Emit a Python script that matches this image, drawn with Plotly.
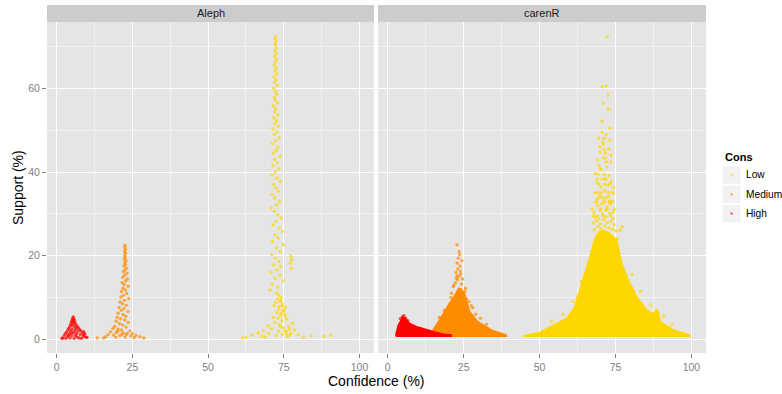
import plotly.graph_objects as go

# ---------------- data ----------------
COLORS = {"Low": "#FFD700", "Medium": "#FF8C00", "High": "#FF0000"}
LEVELS = ["Low", "Medium", "High"]
FACETS = ["Aleph", "carenR"]

x_ticks = [0, 25, 50, 75, 100]
y_ticks = [0, 20, 40, 60]

# Aleph panel: individual rules (confidence %, support %)
aleph_high_conf = [5.5, 5.3, 5.7, 5.0, 5.9, 5.4, 4.8, 6.1, 5.6, 4.6, 6.4, 5.2, 6.8, 4.3, 5.9, 7.2, 4.0, 6.5, 5.0, 7.6,
                   3.7, 6.0, 8.0, 4.5, 7.0, 3.3, 5.5, 8.5, 2.9, 6.5, 4.2, 7.8, 9.0, 2.5, 5.0, 8.8, 3.6, 6.8, 9.6, 2.0,
                   4.4, 7.4, 1.7, 3.0, 5.8, 8.2, 10.0, 9.3, 8.9, 6.2, 4.9, 3.8]
aleph_high_supp = [5.3, 5.0, 4.8, 4.5, 4.4, 4.2, 4.0, 3.9, 3.7, 3.5, 3.4, 3.3, 3.1, 3.0, 2.9, 2.7, 2.6, 2.5, 2.4, 2.3,
                   2.2, 2.1, 2.0, 1.9, 1.8, 1.7, 1.6, 1.5, 1.4, 1.3, 1.2, 1.1, 1.0, 0.9, 0.8, 0.7, 0.6, 0.5, 0.5, 0.3,
                   0.3, 0.3, 0.2, 0.2, 0.2, 0.2, 0.4, 1.3, 1.8, 0.9, 1.4, 1.0]

aleph_med_conf = [22.6, 22.5, 22.7, 22.4, 22.8, 22.5, 22.6, 22.3, 22.9, 22.5, 22.7, 22.2, 23.0, 22.6, 22.0, 23.2, 22.4,
                  21.8, 23.4, 22.8, 21.6, 22.3, 23.6, 21.9, 22.7, 21.4, 23.1, 22.1, 21.2, 23.8, 22.4, 20.9, 21.7, 23.0,
                  20.6, 22.2, 21.3, 23.5, 20.3, 21.9, 22.8, 20.0, 21.1, 22.5, 19.6, 23.6, 20.7, 21.8, 19.2, 22.9, 18.6,
                  20.3, 21.4, 24.2, 17.8, 19.7, 22.0, 23.3, 25.0, 17.0, 18.8, 20.9, 24.5, 26.2, 16.2, 19.5, 22.6, 25.6,
                  27.5, 13.4, 15.5, 28.8, 21.5, 20.2, 23.0]
aleph_med_supp = [22.5, 22.0, 21.5, 21.0, 20.6, 20.1, 19.6, 19.2, 18.8, 18.3, 17.9, 17.5, 17.0, 16.6, 16.2, 15.8, 15.3,
                  14.8, 14.4, 14.0, 13.5, 13.1, 12.7, 12.2, 11.8, 11.4, 11.0, 10.5, 10.1, 9.7, 9.3, 8.9, 8.5, 8.1,
                  7.6, 7.3, 6.9, 6.6, 6.2, 5.9, 5.5, 5.2, 4.9, 4.6, 4.3, 4.0, 3.7, 3.4, 3.1, 2.9, 2.6,
                  2.4, 2.2, 2.0, 1.8, 1.6, 1.5, 1.4, 1.3, 1.1, 1.0, 0.9, 0.8, 0.9, 0.6, 0.5, 0.5, 0.4,
                  0.6, 0.3, 0.3, 0.3, 1.2, 1.9, 1.1]

aleph_low_conf = [72.3, 72.2, 72.4, 72.1, 72.5, 72.2, 72.4, 72.0, 72.6, 72.3, 71.9, 72.5, 72.1, 72.7, 71.8, 72.4, 72.0,
                  72.8, 71.7, 72.3, 72.6, 71.9, 72.2, 72.9, 71.6, 72.4, 72.0, 73.0, 71.7, 72.5, 72.1, 73.2, 71.4, 72.8,
                  71.9, 73.5, 72.3, 71.2, 73.0, 72.5, 71.6, 73.8, 72.0, 72.9, 71.4, 73.4, 72.2, 71.0, 72.7, 73.9, 71.6,
                  72.4, 73.2, 71.1, 72.0, 73.6, 72.6, 70.8, 71.9, 73.0, 74.2, 72.4, 71.5, 73.5, 74.6, 72.0, 73.1, 71.3,
                  74.9, 72.6, 73.8, 71.0, 77.4, 72.2, 77.6, 73.4, 77.2, 71.6, 74.0, 77.5, 72.8, 70.7, 73.7, 72.1, 74.8,
                  71.2, 73.0, 70.5, 72.6, 73.4, 74.1, 72.9, 73.8, 72.4, 74.5, 71.8, 75.6, 73.3, 74.8, 72.7, 75.2, 73.9,
                  71.5, 76.0, 74.4, 72.0, 77.8, 73.6, 69.8, 76.6, 74.9, 71.0, 78.5, 68.2, 73.2, 75.8, 66.5, 77.4, 70.0,
                  79.8, 64.5, 72.5, 84.0, 67.8, 76.2, 88.2, 62.5, 81.5, 90.5, 61.3, 74.5, 69.0, 74.0, 74.6, 73.5, 75.0,
                  74.2, 73.1, 75.5, 74.0, 76.8, 75.3, 77.0, 76.0]
aleph_low_supp = [72.4, 71.8, 71.1, 70.5, 69.8, 69.1, 68.4, 67.7, 67.0, 66.3, 65.6, 64.9, 64.2, 63.5, 62.8, 62.1, 61.4,
                  60.7, 60.0, 59.3, 58.6, 57.9, 57.2, 56.5, 55.8, 55.1, 54.4, 53.7, 53.0, 52.3, 51.6, 51.0, 50.3, 49.6,
                  49.0, 48.2, 47.5, 46.8, 46.0, 45.2, 44.5, 43.7, 43.0, 42.2, 41.5, 40.8, 40.0, 39.3, 38.6, 37.8, 37.0,
                  36.2, 35.4, 34.6, 33.8, 33.0, 32.2, 31.4, 30.6, 29.8, 29.0, 28.2, 27.4, 26.6, 25.8, 25.0, 24.2, 23.4,
                  22.6, 21.8, 21.0, 20.2, 19.8, 19.4, 19.0, 18.6, 18.2, 17.8, 17.4, 17.0, 16.6, 16.0, 15.3, 14.6, 13.9,
                  13.2, 12.5, 11.8, 11.1, 10.5, 10.0, 9.6, 9.2, 8.8, 8.4, 8.0, 7.6, 7.2, 6.8, 6.4, 6.0, 5.6,
                  5.2, 4.8, 4.4, 4.0, 3.8, 3.5, 3.2, 3.0, 2.7, 2.5, 2.2, 2.0, 1.9, 1.7, 1.5, 1.4, 1.3,
                  1.1, 1.0, 0.9, 0.8, 0.7, 0.6, 0.7, 0.4, 0.4, 0.9, 0.3, 1.2, 0.5, 9.0, 8.0, 7.8, 7.0,
                  6.2, 5.0, 5.3, 3.0, 2.4, 2.0, 1.0, 1.2]

# carenR panel: outline of the solid (overplotted) part of each cloud (confidence %, support %)
caren_low_env_conf = [44.5, 47.0, 50.1, 54.5, 58.9, 61.6, 63.3, 65.5, 66.6, 67.7, 68.8, 69.9, 71.0, 72.5, 73.8, 75.4,
                      77.0, 79.2, 82.0, 85.3, 87.5, 88.5, 89.2, 89.7, 94.1, 98.5, 99.5, 99.5, 44.5]
caren_low_env_supp = [0.7, 1.2, 1.6, 3.4, 5.0, 7.8, 11.8, 16.6, 19.8, 23.0, 25.0, 25.8, 26.0, 25.6, 24.8, 23.8,
                      18.2, 14.2, 10.2, 7.0, 6.0, 7.2, 6.2, 4.2, 2.2, 1.3, 1.0, 0.7, 0.7]
caren_med_env_conf = [14.5, 14.9, 17.1, 19.3, 21.5, 22.6, 23.4, 24.2, 25.3, 27.0, 29.7, 34.1, 39.1, 39.1, 14.5]
caren_med_env_supp = [0.7, 2.2, 4.6, 7.4, 9.8, 11.2, 12.2, 12.0, 11.0, 6.6, 4.2, 2.2, 1.0, 0.7, 0.7]
caren_high_env_conf = [2.7, 2.8, 3.5, 5.0, 5.6, 7.2, 9.9, 13.2, 16.0, 18.5, 20.9, 20.9, 2.7]
caren_high_env_supp = [0.7, 1.5, 3.4, 5.3, 5.0, 3.8, 2.9, 2.1, 1.6, 1.2, 1.0, 0.7, 0.7]

# carenR panel: individual rules visible outside the solid parts
caren_low_conf = [72.3, 70.6, 72.0, 72.6, 71.0, 72.6, 70.6, 70.6, 72.0, 69.5, 71.3, 73.2, 71.0, 71.3, 69.9, 71.0, 71.8,
                  72.0, 73.4, 69.5, 70.2, 69.3, 71.3, 68.9, 70.6, 71.8, 69.5, 71.5, 73.1, 74.4, 69.3, 70.4, 72.6, 73.9,
                  69.9, 72.1, 71.0, 68.8, 71.3, 72.9, 73.3, 67.4, 70.1, 72.3, 74.6, 67.7, 69.0, 71.0, 73.4, 77.2, 75.6,
                  68.0, 69.2, 70.3, 71.5, 72.8, 74.0, 75.2,
                  67.6, 68.8, 70.0, 71.1, 72.3, 73.5, 74.6,
                  68.3, 69.5, 70.7, 71.9, 73.1, 74.3,
                  70.0, 72.2, 74.3,
                  67.9, 69.2, 70.5, 71.8, 73.0,
                  69.0, 71.2, 73.4,
                  68.5, 69.8, 71.6, 72.8, 74.0,
                  70.3, 68.2, 72.6, 73.6,
                  69.0, 71.6, 73.0, 74.2,
                  68.4, 70.0, 72.2, 73.4,
                  69.2, 71.6, 69.9, 72.7, 70.8, 73.2,
                  76.5, 63.8, 62.5, 61.0, 80.5, 83.2, 86.7, 90.8, 93.5, 57.8, 54.0]
caren_low_supp = [72.4, 60.4, 60.6, 58.4, 56.5, 55.1, 52.1, 49.5, 48.9, 48.1, 48.1, 47.6, 46.6, 45.4, 44.8, 43.4, 43.4,
                  42.4, 42.4, 41.6, 40.6, 39.5, 39.5, 38.3, 38.3, 38.3, 37.1, 37.1, 37.1, 36.3, 35.1, 35.1, 35.1, 35.1,
                  33.9, 33.9, 33.9, 32.7, 32.7, 32.7, 32.7, 31.1, 31.1, 31.1, 31.1, 29.5, 29.5, 29.5, 29.5, 26.9, 24.0,
                  26.2, 26.9, 26.4, 27.1, 26.6, 26.3, 25.9,
                  27.8, 28.3, 27.6, 28.6, 27.9, 28.1, 27.4,
                  29.2, 28.8, 29.9, 29.3, 30.1, 28.9,
                  30.8, 31.6, 30.4,
                  30.3, 31.9, 32.4, 30.9, 33.1,
                  33.6, 33.2, 32.3,
                  32.9, 34.4, 35.6, 34.2, 33.0,
                  36.4, 35.0, 36.9, 37.6,
                  37.4, 38.4, 39.1, 34.9,
                  39.6, 40.8, 41.2, 44.0,
                  42.9, 44.6, 46.0, 45.5, 47.2, 50.5,
                  26.1, 13.8, 10.2, 9.0, 15.5, 11.5, 8.2, 5.5, 3.5, 6.0, 4.3]
caren_med_conf = [22.8, 23.5, 23.2, 22.9, 23.8, 23.1, 22.5, 24.0, 23.5, 22.6, 24.6, 21.8, 25.5, 21.0, 26.8, 20.5, 29.0,
                  28.0, 24.4, 23.7, 22.3, 23.0, 24.3, 22.8, 23.9, 21.6, 25.6, 26.0, 27.5, 20.8, 30.5, 32.5, 18.6, 17.0]
caren_med_supp = [22.6, 21.0, 19.4, 18.2, 17.5, 16.8, 16.0, 15.6, 15.0, 14.6, 14.4, 13.0, 11.5, 11.0, 9.0, 8.5, 6.0,
                  7.5, 18.8, 20.2, 13.5, 14.2, 13.2, 15.2, 16.3, 12.6, 12.2, 9.6, 8.0, 10.0, 5.0, 3.6, 6.9, 5.2]
caren_high_conf = [4.8, 5.3, 5.9, 4.2, 6.6]
caren_high_supp = [5.3, 5.6, 5.0, 4.9, 4.4]

# ---------------- figure ----------------
W, H = 782, 394
PANEL_BG = "#E5E5E5"
X_RANGE = [-3.2, 104.8]
Y_RANGE = [-3.3, 75.9]
FONT = "Liberation Sans, Arial, Helvetica, sans-serif"


def rgba(hex_color, a):
    h = hex_color.lstrip("#")
    return "rgba(%d,%d,%d,%.2f)" % (int(h[0:2], 16), int(h[2:4], 16), int(h[4:6], 16), a)


fig = go.Figure()

aleph = {"Low": (aleph_low_conf, aleph_low_supp),
         "Medium": (aleph_med_conf, aleph_med_supp),
         "High": (aleph_high_conf, aleph_high_supp)}
for lev in LEVELS:
    xs, ys = aleph[lev]
    fig.add_trace(go.Scatter(x=xs, y=ys, mode="markers", xaxis="x", yaxis="y", showlegend=False,
                             marker=dict(size=3.4, color=rgba(COLORS[lev], 0.7), line=dict(width=0))))

caren_env = {"Low": (caren_low_env_conf, caren_low_env_supp),
             "Medium": (caren_med_env_conf, caren_med_env_supp),
             "High": (caren_high_env_conf, caren_high_env_supp)}
caren_pts = {"Low": (caren_low_conf, caren_low_supp),
             "Medium": (caren_med_conf, caren_med_supp),
             "High": (caren_high_conf, caren_high_supp)}
for lev in LEVELS:
    xs, ys = caren_env[lev]
    fig.add_trace(go.Scatter(x=xs, y=ys, mode="lines", fill="toself", fillcolor=COLORS[lev],
                             line=dict(width=1.5, color=COLORS[lev]), xaxis="x2", yaxis="y2",
                             showlegend=False, hoverinfo="skip"))
    px, py = caren_pts[lev]
    fig.add_trace(go.Scatter(x=px, y=py, mode="markers", xaxis="x2", yaxis="y2", showlegend=False,
                             marker=dict(size=3.4, color=rgba(COLORS[lev], 0.7), line=dict(width=0))))

x_dom1 = [47 / W, 374 / W]
x_dom2 = [378 / W, 706 / W]
y_dom = [1 - 353 / H, 1 - 22 / H]

axis_common = dict(range=X_RANGE, tickvals=x_ticks, ticktext=[str(v) for v in x_ticks],
                   showgrid=True, gridcolor="white", gridwidth=1.1, zeroline=False, showline=False,
                   ticks="outside", ticklen=4, tickwidth=1, tickcolor="#7F7F7F",
                   tickfont=dict(family=FONT, size=10.5, color="#7F7F7F"),
                   minor=dict(tickvals=[12.5, 37.5, 62.5, 87.5], showgrid=True, gridcolor="#F2F2F2",
                              gridwidth=0.6, ticks=""),
                   fixedrange=True)
y_common = dict(range=Y_RANGE, tickvals=y_ticks, showgrid=True, gridcolor="white", gridwidth=1.1,
                zeroline=False, showline=False,
                minor=dict(tickvals=[10, 30, 50, 70], showgrid=True, gridcolor="#F2F2F2", gridwidth=0.6, ticks=""),
                fixedrange=True)

fig.update_layout(
    width=W, height=H,
    margin=dict(l=0, r=0, t=0, b=0),
    paper_bgcolor="white", plot_bgcolor=PANEL_BG,
    font=dict(family=FONT, color="black"),
    xaxis=dict(domain=x_dom1, anchor="y", **axis_common),
    xaxis2=dict(domain=x_dom2, anchor="y2", **axis_common),
    yaxis=dict(domain=y_dom, anchor="x", ticks="outside", ticklen=4, tickwidth=1, tickcolor="#7F7F7F",
               tickfont=dict(family=FONT, size=10.5, color="#7F7F7F"), **y_common),
    yaxis2=dict(domain=y_dom, anchor="x2", matches="y", showticklabels=False, ticks="", **y_common),
    showlegend=False,
)

shapes = []
annotations = []
for dom, label in zip([x_dom1, x_dom2], FACETS):
    shapes.append(dict(type="rect", xref="paper", yref="paper", x0=dom[0], x1=dom[1],
                       y0=1 - 22 / H, y1=1 - 5 / H, fillcolor="#CCCCCC", line=dict(width=0), layer="below"))
    annotations.append(dict(text=label, xref="paper", yref="paper", x=(dom[0] + dom[1]) / 2, y=1 - 13.5 / H,
                            showarrow=False, xanchor="center", yanchor="middle",
                            font=dict(family=FONT, size=11, color="#1A1A1A")))

annotations.append(dict(text="Confidence (%)", xref="paper", yref="paper", x=376 / W, y=1 - 381 / H,
                        showarrow=False, xanchor="center", yanchor="middle",
                        font=dict(family=FONT, size=14, color="black")))
annotations.append(dict(text="Support (%)", xref="paper", yref="paper", x=18 / W, y=1 - 188 / H,
                        showarrow=False, xanchor="center", yanchor="middle", textangle=-90,
                        font=dict(family=FONT, size=14, color="black")))

annotations.append(dict(text="<b>Cons</b>", xref="paper", yref="paper", x=722.5 / W, y=1 - 156.5 / H,
                        showarrow=False, xanchor="left", yanchor="middle",
                        font=dict(family=FONT, size=11, color="black")))
centers = [175.0, 194.3, 213.6]
for lev, cy in zip(LEVELS, centers):
    shapes.append(dict(type="rect", xref="paper", yref="paper", x0=722.7 / W, x1=740.5 / W,
                       y0=1 - (cy + 8.7) / H, y1=1 - (cy - 8.7) / H, fillcolor="#F2F2F2", line=dict(width=0)))
    shapes.append(dict(type="circle", xref="paper", yref="paper", x0=(731.6 - 1.4) / W, x1=(731.6 + 1.4) / W,
                       y0=1 - (cy + 1.4) / H, y1=1 - (cy - 1.4) / H, fillcolor=rgba(COLORS[lev], 0.55),
                       line=dict(width=0)))
    annotations.append(dict(text=lev, xref="paper", yref="paper", x=743.5 / W, y=1 - cy / H,
                            showarrow=False, xanchor="left", yanchor="middle",
                            font=dict(family=FONT, size=10.2, color="black")))

fig.update_layout(shapes=shapes, annotations=annotations)
fig.write_html("out.html", config={"displayModeBar": False},
               post_script="document.body.style.margin='0';document.body.style.padding='0';"
                           "document.documentElement.style.overflow='hidden';")
